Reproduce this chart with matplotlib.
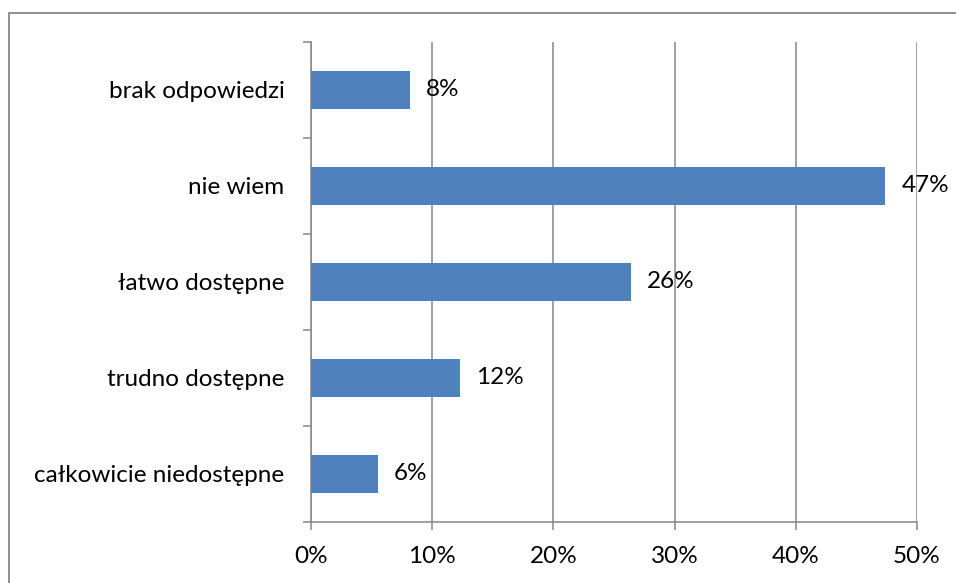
import matplotlib
matplotlib.use("Agg")
import matplotlib.pyplot as plt
from matplotlib.patches import Rectangle
import numpy as np

# -------- data --------
categories = ["całkowicie niedostępne", "trudno dostępne", "łatwo dostępne", "nie wiem", "brak odpowiedzi"]
values = [5.5, 12.3, 26.4, 47.4, 8.2]
value_labels = ["6%", "12%", "26%", "47%", "8%"]
xticks = [0, 10, 20, 30, 40, 50]

plt.rcParams["font.family"] = ["Lato", "DejaVu Sans"]
GRAY = "#868686"
BLUE = "#4F81BD"
FS = 17.5
W, H = 956, 583

fig = plt.figure(figsize=(W / 100, H / 100), dpi=100)
ax = fig.add_axes([311 / W, 1 - 522 / H, (917 - 311) / W, (522 - 42) / H])

# outer chart border (right/bottom edges fall outside the image)
fig.patches.append(Rectangle((9 / W, -0.1), 1.2, 1.1 - 13 / H, transform=fig.transFigure,
                             fill=False, edgecolor=GRAY, linewidth=1.3))

y = np.arange(len(categories))
ax.barh(y, values, height=0.4, color=BLUE, zorder=3)
for yi, v, lab in zip(y, values, value_labels):
    ax.text(v + 1.3, yi, lab, va="center", ha="left", fontsize=FS, color="black", zorder=4)

ax.set_xlim(0, 50)
ax.set_ylim(-0.5, len(categories) - 0.5)
ax.set_xticks(xticks)
ax.set_xticklabels([f"{t}%" for t in xticks], fontsize=FS)
ax.set_yticks(y)
ax.set_yticklabels(categories, fontsize=FS)
ax.tick_params(axis="y", which="major", length=0, pad=19)
ax.set_yticks(np.arange(-0.5, len(categories)), minor=True)
ax.tick_params(axis="y", which="minor", length=6, width=1.1, color=GRAY, direction="out")
ax.tick_params(axis="x", length=6, width=1.1, color=GRAY, direction="out", pad=11)

ax.grid(axis="x", color=GRAY, linewidth=1.1, zorder=0)
ax.set_axisbelow(True)
for s in ("top", "right"):
    ax.spines[s].set_visible(False)
for s in ("left", "bottom"):
    ax.spines[s].set_color(GRAY)
    ax.spines[s].set_linewidth(1.1)

fig.savefig("out.png", dpi=100)
